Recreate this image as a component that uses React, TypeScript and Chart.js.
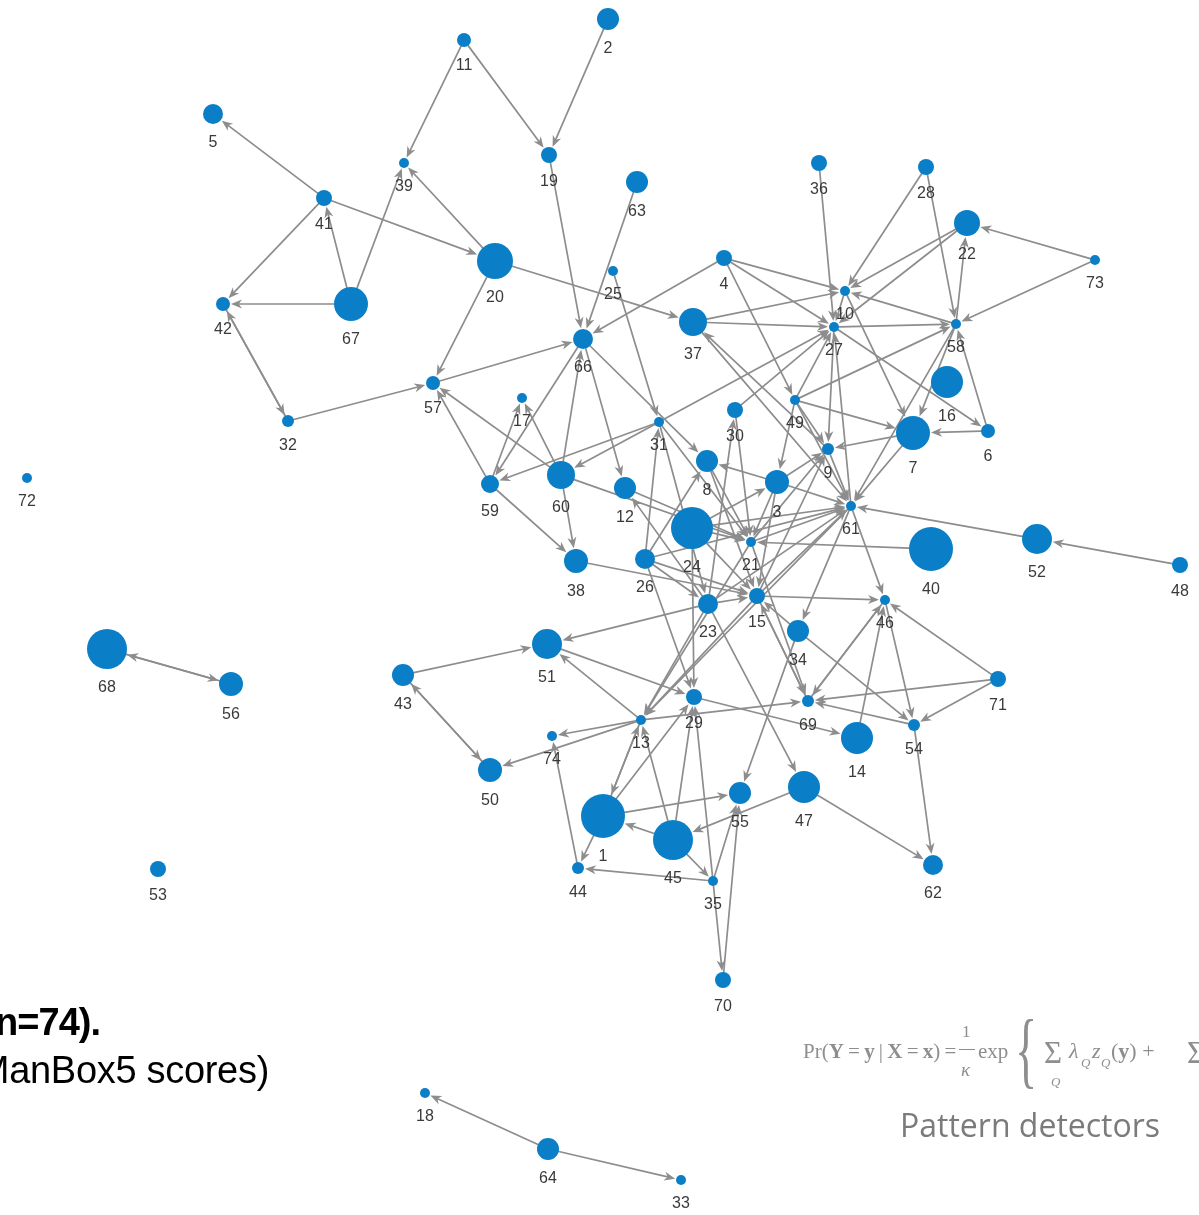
import React, { useEffect, useRef } from "react";
import { Chart, registerables } from "chart.js";

Chart.register(...registerables);

const W = 1199;
const H = 1215;

// ---- network data (layout coordinates + ManBox5-like node scores) ----
const nodeIds = [
  1, 2, 3, 4, 5, 6, 7, 8, 9, 10,
  11, 12, 13, 14, 15, 16, 17, 18, 19, 20,
  21, 22, 23, 24, 25, 26, 27, 28, 29, 30,
  31, 32, 33, 34, 35, 36, 37, 38, 39, 40,
  41, 42, 43, 44, 45, 46, 47, 48, 49, 50,
  51, 52, 53, 54, 55, 56, 57, 58, 59, 60,
  61, 62, 63, 64, 66, 67, 68, 69, 70, 71,
  72, 73, 74,
];
const layoutX = [
  603, 608, 777, 724, 213, 988, 913, 707, 828, 845,
  464, 625, 641, 857, 757, 947, 522, 425, 549, 495,
  751, 967, 708, 692, 613, 645, 834, 926, 694, 735,
  659, 288, 681, 798, 713, 819, 693, 576, 404, 931,
  324, 223, 403, 578, 673, 885, 804, 1180, 795, 490,
  547, 1037, 158, 914, 740, 231, 433, 956, 490, 561,
  851, 933, 637, 548, 583, 351, 107, 808, 723, 998,
  27, 1095, 552,
];
const layoutY = [
  816, 19, 482, 258, 114, 431, 433, 461, 449, 291,
  40, 488, 720, 738, 596, 382, 398, 1093, 155, 261,
  542, 223, 604, 528, 271, 559, 327, 167, 697, 410,
  422, 421, 1180, 631, 881, 163, 322, 561, 163, 549,
  198, 304, 675, 868, 840, 600, 787, 565, 400, 770,
  644, 539, 869, 725, 793, 684, 383, 324, 484, 475,
  506, 865, 182, 1149, 339, 304, 649, 701, 980, 679,
  478, 260, 736,
];
const manBoxScores = [
  22, 11, 12, 8, 10, 7, 17, 11, 6, 5,
  7, 11, 5, 16, 8, 16, 5, 5, 8, 18,
  5, 13, 10, 21, 5, 10, 5, 8, 8, 8,
  5, 6, 5, 11, 5, 8, 14, 12, 5, 22,
  8, 7, 11, 6, 20, 5, 16, 8, 5, 12,
  15, 15, 8, 6, 11, 12, 7, 5, 9, 14,
  5, 10, 11, 11, 10, 17, 20, 6, 8, 8,
  5, 5, 5,
];

// directed ties: source -> target
const edgeSources = [
  11, 11, 2, 41, 41, 41, 67, 67, 20, 67, 42, 32, 32, 20, 57, 20, 19, 63, 4, 25,
  59, 60, 59, 60, 66, 31, 31, 59, 60, 60, 66, 66, 31, 26, 31, 31,
  36, 28, 28, 22, 22, 58, 73, 73, 4, 4, 4, 37, 37, 27, 58, 10, 27, 61, 49, 49,
  49, 49, 49, 49, 10, 27, 58, 58, 6, 6, 7, 7, 9, 37, 9,
  23, 30, 30, 8, 8, 3, 26, 3, 3, 3, 3, 12, 23, 60, 24, 24, 24, 21, 15, 40,
  52, 48, 61, 61, 15, 23, 21, 26, 61, 15, 14, 46, 69, 46, 71, 71, 71, 54, 34,
  15, 21, 54, 47, 47, 34, 34, 69, 23, 23, 43, 13, 51, 43, 50, 13, 13, 44, 1,
  35, 45, 45, 1, 1, 13, 45, 45, 35, 35, 70, 35, 29, 13, 26, 24, 23, 15, 21, 1,
  26, 26, 23, 38, 24, 68, 56, 64, 64,
];
const edgeTargets = [
  39, 19, 19, 5, 42, 20, 41, 39, 39, 42, 32, 42, 57, 57, 66, 37, 66, 66, 66, 31,
  57, 57, 17, 17, 59, 59, 60, 38, 38, 66, 12, 8, 27, 31, 21, 23,
  27, 10, 58, 10, 27, 22, 22, 58, 10, 27, 49, 10, 27, 58, 10, 27, 9, 27, 27, 58,
  7, 9, 3, 61, 7, 6, 7, 61, 58, 7, 9, 61, 37, 61, 61,
  30, 21, 27, 21, 15, 8, 8, 9, 61, 15, 21, 21, 12, 21, 21, 3, 61, 9, 9, 21,
  61, 52, 46, 34, 61, 61, 61, 61, 13, 46, 46, 69, 46, 54, 46, 54, 69, 69, 54,
  69, 69, 62, 62, 45, 55, 15, 15, 47, 51, 51, 51, 29, 50, 43, 50, 74, 74, 44,
  44, 35, 1, 55, 13, 1, 13, 29, 29, 55, 55, 70, 14, 69, 29, 29, 13, 13, 13, 29,
  15, 23, 15, 15, 15, 56, 68, 18, 33,
];

const NODE_COLOR = "#0a7fc7";
const EDGE_COLOR = "#8d8d8d";
const LABEL_COLOR = "#3a3a3a";

const scoreToRadius = (s: number) => s;

const edgesPlugin = {
  id: "networkEdges",
  beforeDatasetsDraw(chart: any) {
    const { ctx, scales } = chart;
    const xs = scales.x;
    const ys = scales.y;
    ctx.save();
    ctx.strokeStyle = EDGE_COLOR;
    ctx.fillStyle = EDGE_COLOR;
    ctx.lineWidth = 1.7;
    ctx.lineCap = "round";
    const AL = 11;
    const AW = 4.5;
    for (let k = 0; k < edgeSources.length; k++) {
      const i = nodeIds.indexOf(edgeSources[k]);
      const j = nodeIds.indexOf(edgeTargets[k]);
      if (i < 0 || j < 0) continue;
      const x1 = xs.getPixelForValue(layoutX[i]);
      const y1 = ys.getPixelForValue(layoutY[i]);
      const x2 = xs.getPixelForValue(layoutX[j]);
      const y2 = ys.getPixelForValue(layoutY[j]);
      const dx = x2 - x1;
      const dy = y2 - y1;
      const len = Math.hypot(dx, dy) || 1;
      const ux = dx / len;
      const uy = dy / len;
      const r1 = scoreToRadius(manBoxScores[i]);
      const r2 = scoreToRadius(manBoxScores[j]);
      const sx = x1 + ux * r1;
      const sy = y1 + uy * r1;
      const ex = x2 - ux * (r2 + 1);
      const ey = y2 - uy * (r2 + 1);
      ctx.beginPath();
      ctx.moveTo(sx, sy);
      ctx.lineTo(ex - ux * AL * 0.6, ey - uy * AL * 0.6);
      ctx.stroke();
      ctx.beginPath();
      ctx.moveTo(ex, ey);
      ctx.lineTo(ex - ux * AL - uy * AW, ey - uy * AL + ux * AW);
      ctx.lineTo(ex - ux * AL * 0.7, ey - uy * AL * 0.7);
      ctx.lineTo(ex - ux * AL + uy * AW, ey - uy * AL - ux * AW);
      ctx.closePath();
      ctx.fill();
    }
    ctx.restore();
  },
};

const labelsPlugin = {
  id: "networkLabels",
  afterDatasetsDraw(chart: any) {
    const { ctx, scales } = chart;
    ctx.save();
    ctx.font = '16px "Liberation Sans", Arial, sans-serif';
    ctx.fillStyle = LABEL_COLOR;
    ctx.textAlign = "center";
    ctx.textBaseline = "middle";
    for (let i = 0; i < nodeIds.length; i++) {
      const px = scales.x.getPixelForValue(layoutX[i]);
      const py = scales.y.getPixelForValue(layoutY[i]);
      const r = scoreToRadius(manBoxScores[i]);
      ctx.fillText(String(nodeIds[i]), px, py + r + 19);
    }
    ctx.restore();
  },
};

export default function App() {
  const canvasRef = useRef<HTMLCanvasElement | null>(null);

  useEffect(() => {
    document.body.style.margin = "0";
    const canvas = canvasRef.current;
    if (!canvas) return;
    const chart = new Chart(canvas, {
      type: "scatter",
      data: {
        datasets: [
          {
            label: "participants",
            data: nodeIds.map((_, i) => ({ x: layoutX[i], y: layoutY[i] })),
            pointRadius: manBoxScores.map(scoreToRadius),
            pointHoverRadius: manBoxScores.map(scoreToRadius),
            pointBackgroundColor: NODE_COLOR,
            pointBorderColor: NODE_COLOR,
            pointBorderWidth: 0,
            showLine: false,
            clip: false as any,
          },
        ],
      },
      options: {
        animation: false,
        responsive: false,
        devicePixelRatio: 1,
        layout: { padding: 0, autoPadding: false },
        events: [],
        plugins: {
          legend: { display: false },
          tooltip: { enabled: false },
          title: { display: false },
        },
        scales: {
          x: { type: "linear", min: 0, max: W, display: false },
          y: { type: "linear", min: 0, max: H, reverse: true, display: false },
        },
      },
      plugins: [edgesPlugin, labelsPlugin],
    });
    return () => chart.destroy();
  }, []);

  const grey = "#8e8e8e";
  const serif = '"Liberation Serif", "DejaVu Serif", serif';
  const abs = (left: number, top: number, extra: any = {}) => ({
    position: "absolute" as const,
    left,
    top,
    whiteSpace: "nowrap" as const,
    color: grey,
    fontFamily: serif,
    ...extra,
  });

  return (
    <div
      style={{
        position: "relative",
        width: W,
        height: H,
        overflow: "hidden",
        background: "#ffffff",
      }}
    >
      <canvas
        ref={canvasRef}
        width={W}
        height={H}
        style={{ position: "absolute", left: 0, top: 0, width: W, height: H }}
      />
      {/* caption (cut off at the left edge) */}
      <div
        style={{
          position: "absolute",
          right: W - 100,
          top: 1003,
          whiteSpace: "nowrap",
          fontFamily: '"Liberation Sans", Arial, sans-serif',
          fontWeight: 700,
          fontSize: 38,
          lineHeight: "38px",
          letterSpacing: "-1px",
          color: "#000",
        }}
      >
        Figure 1. Friendship network of young men (n=74).
      </div>
      <div
        style={{
          position: "absolute",
          right: W - 269,
          top: 1051,
          whiteSpace: "nowrap",
          fontFamily: '"Liberation Sans", Arial, sans-serif',
          fontWeight: 400,
          fontSize: 38,
          lineHeight: "38px",
          letterSpacing: "-0.3px",
          color: "#000",
        }}
      >
        (nodes sized by ManBox5 scores)
      </div>

      {/* formula */}
      <div style={abs(803, 1041, { fontSize: 21, lineHeight: "21px" })}>
        Pr(<b>Y</b>{"\u2009"}={"\u2009"}<b>y</b>{"\u2009"}|{"\u2009"}<b>X</b>
        {"\u2009"}={"\u2009"}<b>x</b>){"\u2009"}=
      </div>
      <div style={abs(962, 1023, { fontSize: 17, lineHeight: "17px" })}>1</div>
      <div
        style={{
          position: "absolute",
          left: 959,
          top: 1049,
          width: 16,
          height: 1,
          background: grey,
        }}
      />
      <div style={abs(961, 1060, { fontSize: 19, lineHeight: "19px", fontStyle: "italic" })}>κ</div>
      <div style={abs(978, 1041, { fontSize: 21, lineHeight: "21px" })}>exp</div>
      <div
        style={abs(1015, 1008, {
          fontSize: 84,
          lineHeight: "84px",
          fontWeight: 300,
          transform: "scaleX(0.55)",
          transformOrigin: "left top",
        })}
      >
        {"{"}
      </div>
      <div style={abs(1044, 1037, { fontSize: 31, lineHeight: "31px" })}>Σ</div>
      <div style={abs(1051, 1075, { fontSize: 13, lineHeight: "13px", fontStyle: "italic" })}>Q</div>
      <div style={abs(1069, 1040, { fontSize: 22, lineHeight: "22px", fontStyle: "italic" })}>λ</div>
      <div style={abs(1081, 1056, { fontSize: 13, lineHeight: "13px", fontStyle: "italic" })}>Q</div>
      <div style={abs(1092, 1040, { fontSize: 22, lineHeight: "22px", fontStyle: "italic" })}>z</div>
      <div style={abs(1101, 1056, { fontSize: 13, lineHeight: "13px", fontStyle: "italic" })}>Q</div>
      <div style={abs(1111, 1040, { fontSize: 22, lineHeight: "22px" })}>
        (<b>y</b>) +
      </div>
      <div style={abs(1187, 1037, { fontSize: 31, lineHeight: "31px" })}>Σ</div>

      <div
        style={{
          position: "absolute",
          left: 900,
          top: 1109,
          whiteSpace: "nowrap",
          fontFamily: '"Open Sans", "Noto Sans", sans-serif',
          fontSize: 32,
          lineHeight: "32px",
          color: "#7b7b7b",
        }}
      >
        Pattern detectors
      </div>
    </div>
  );
}
